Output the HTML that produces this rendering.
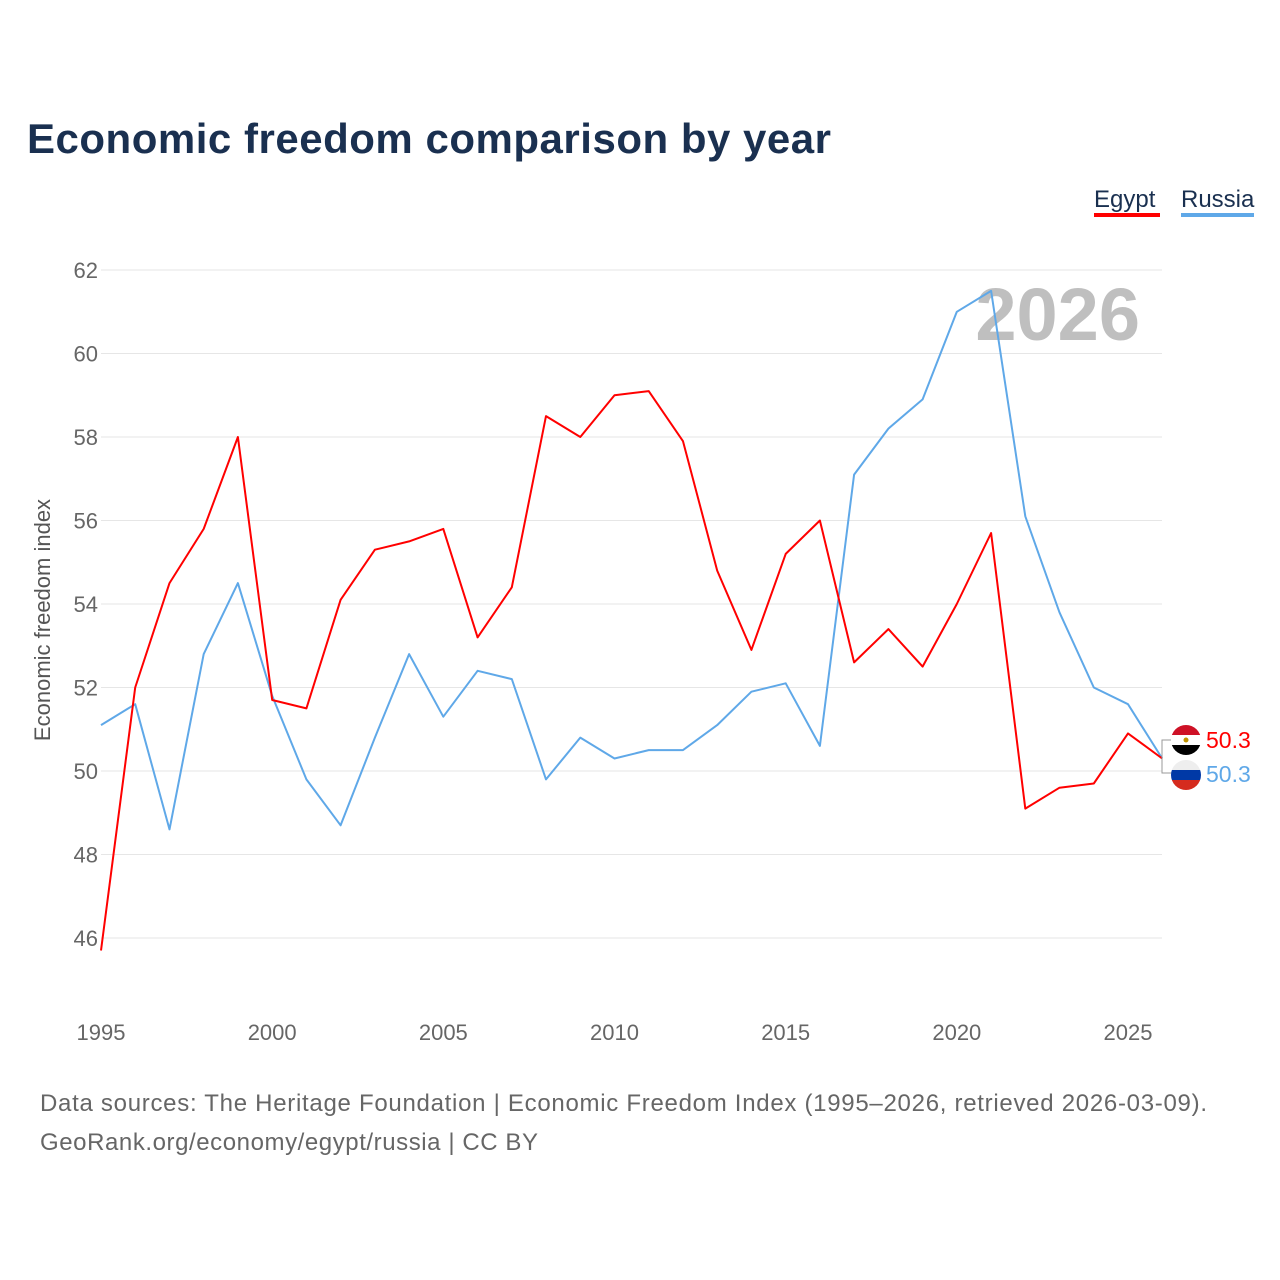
<!DOCTYPE html>
<html><head><meta charset="utf-8"><style>
body{margin:0;background:#fff;font-family:"Liberation Sans",sans-serif;}
#wrap{position:relative;width:1280px;height:1280px;overflow:hidden;}
</style></head><body>
<div id="wrap">
<svg id="svg" width="1280" height="1280">
<text x="27" y="153" font-size="42" font-weight="bold" fill="#1a3050" textLength="804">Economic freedom comparison by year</text>
<g><text x="1094" y="207" font-size="24" fill="#1a3050">Egypt</text><rect x="1094" y="213" width="66" height="4" fill="#ff0000"/></g>
<g><text x="1181" y="207" font-size="24" fill="#1a3050">Russia</text><rect x="1181" y="213" width="73" height="4" fill="#5fa8e8"/></g>
<text x="1140" y="340" font-size="74" font-weight="bold" fill="#bfbfbf" text-anchor="end">2026</text>
<text transform="translate(50,620) rotate(-90)" font-size="22" fill="#555" text-anchor="middle">Economic freedom index</text>
<g id="grid"></g><g id="yt"></g><g id="xt"></g><g id="lines"></g>
<g>
<path d="M1162,758 L1162,740 L1172,740 M1162,758 L1162,773 L1172,773" stroke="#999" fill="none"/>
<g><clipPath id="c1"><circle cx="1186" cy="740" r="15"/></clipPath><g clip-path="url(#c1)"><rect x="1171" y="725" width="30" height="10" fill="#ce1126"/><rect x="1171" y="735" width="30" height="10" fill="#fff"/><rect x="1171" y="745" width="30" height="10" fill="#000"/><circle cx="1186" cy="740" r="2.5" fill="#c09300"/></g></g>
<g><clipPath id="c2"><circle cx="1186" cy="775" r="15"/></clipPath><g clip-path="url(#c2)"><rect x="1171" y="760" width="30" height="10" fill="#eee"/><rect x="1171" y="770" width="30" height="10" fill="#0039a6"/><rect x="1171" y="780" width="30" height="10" fill="#d52b1e"/></g></g>
<text x="1206" y="748" font-size="23" fill="#ff0000">50.3</text>
<text x="1206" y="782" font-size="23" fill="#5fa8e8">50.3</text>
</g>
<text x="40" y="1111" font-size="24" fill="#666" textLength="1167">Data sources: The Heritage Foundation | Economic Freedom Index (1995–2026, retrieved 2026-03-09).</text>
<text x="40" y="1150" font-size="24" fill="#666" textLength="498">GeoRank.org/economy/egypt/russia | CC BY</text>
</svg></div>
<script>
const years=[1995,1996,1997,1998,1999,2000,2001,2002,2003,2004,2005,2006,2007,2008,2009,2010,2011,2012,2013,2014,2015,2016,2017,2018,2019,2020,2021,2022,2023,2024,2025,2026];
const egypt=[45.7,52.0,54.5,55.8,58.0,51.7,51.5,54.1,55.3,55.5,55.8,53.2,54.4,58.5,58.0,59.0,59.1,57.9,54.8,52.9,55.2,56.0,52.6,53.4,52.5,54.0,55.7,49.1,49.6,49.7,50.9,50.3];
const russia=[51.1,51.6,48.6,52.8,54.5,51.8,49.8,48.7,50.8,52.8,51.3,52.4,52.2,49.8,50.8,50.3,50.5,50.5,51.1,51.9,52.1,50.6,57.1,58.2,58.9,61.0,61.5,56.1,53.8,52.0,51.6,50.3];
const yTicks=[46,48,50,52,54,56,58,60,62];
const xTicks=[1995,2000,2005,2010,2015,2020,2025];
const NS="http://www.w3.org/2000/svg";
function xS(v){return 101+(v-1995)*(1128-101)/30;}
function yS(v){return 938-(v-46)*(938-270)/16;}
function mk(t,a,p){const e=document.createElementNS(NS,t);for(const k in a)e.setAttribute(k,a[k]);p.appendChild(e);return e;}
const grid=document.getElementById('grid'),yt=document.getElementById('yt'),xt=document.getElementById('xt'),lines=document.getElementById('lines');
yTicks.forEach(v=>{
 const l=mk('line',{x1:101,x2:1162,y1:yS(v),y2:yS(v),stroke:'#e6e6e6','stroke-width':1},grid);
 
 
 const t=mk('text',{x:98,y:yS(v)+8,'font-size':22,fill:'#666','text-anchor':'end'},yt);
 t.textContent=v;
 
 
});
xTicks.forEach(v=>{
 const t=mk('text',{x:xS(v),y:1040,'font-size':22,fill:'#666','text-anchor':'middle'},xt);
 t.textContent=v;
 
 
});
function line(vals,color,name){
 const d=vals.map((v,i)=>(i?'L':'M')+xS(years[i]).toFixed(1)+','+yS(v).toFixed(1)).join(' ');
 const p=mk('path',{d:d,fill:'none',stroke:color,'stroke-width':2,'stroke-linejoin':'round'},lines);
 
 
}
line(russia,'#5fa8e8','russia-line');
line(egypt,'#ff0000','egypt-line');
</script>
</body></html>
